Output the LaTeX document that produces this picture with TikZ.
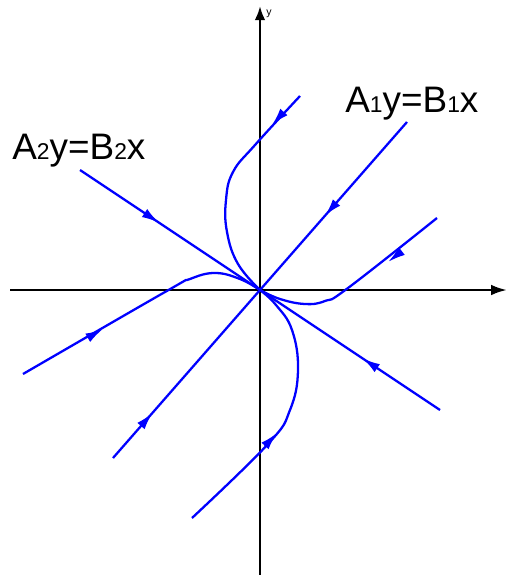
\documentclass[tikz,border=0pt]{standalone}
\usepackage{fontspec}
\setmainfont{Liberation Sans}
\usetikzlibrary{arrows.meta,decorations.markings}
\tikzset{
  axis/.style={line width=1.4pt,-{Latex[length=9pt,width=6pt]}},
  flow/.style={blue,line width=1.3pt},
  arr/.style={postaction={decorate,decoration={markings,
    mark=at position #1 with {\arrow{Latex[length=10pt,width=5.5pt]}}}}},
  tip/.style={flow,-{Latex[length=10pt,width=5.5pt]}},
  lab/.style={anchor=base west,inner sep=0pt,font=\fontsize{21}{21}\selectfont}
}
\newcommand{\idx}[1]{{\fontsize{13}{13}\selectfont #1}}
\begin{document}
\begin{tikzpicture}[x=0.02cm,y=-0.02cm]
\useasboundingbox (0,0) rectangle (508,575);
\coordinate (O) at (260,290);
% axes
\draw[axis] (10,290) -- (507,290) coordinate (xend);
\draw[axis,-{Latex[length=8pt,width=6pt]}] (260,575) -- (260,6) coordinate (yend);
\node[anchor=west,inner sep=0pt,font=\fontsize{6}{6}\selectfont] (ylab) at (266,14) {y};
% straight trajectories
\draw[flow,arr=0.56] (407,122) -- (O);
\draw[flow,arr=0.27] (113,458) -- (O);
\draw[flow,arr=0.44] (80,170) -- (O);
\draw[flow,arr=0.43] (440,410) -- (O);
% curved trajectories
\draw[flow] plot[smooth,tension=0.7] coordinates {(300,96) (255,145) (233,172) (226,200) (227,232) (238,264) (260,290)};
\draw[flow] plot[smooth,tension=0.7] coordinates {(192,518) (268,444) (290,410) (298,370) (292,330) (276,305) (260,290)};
\draw[flow] plot[smooth,tension=0.7] coordinates {(23,374) (165,292) (190,279) (215,273) (240,279) (260,290)};
\draw[flow] plot[smooth,tension=0.7] coordinates {(437,218) (348,288) (325,301) (305,304) (280,299) (260,290)};
\draw[tip] (282,114) -- (272,125);
\draw[tip] (265,446) -- (277,433);
\draw[tip] (90,336.5) -- (103,329);
\draw[tip] (400,252.6) -- (388,262);
% labels
\node[lab] (l2) at (12,159) {A\idx{2}y=B\idx{2}x};
\node[lab] (l1) at (345,112) {A\idx{1}y=B\idx{1}x};
\end{tikzpicture}
\end{document}
